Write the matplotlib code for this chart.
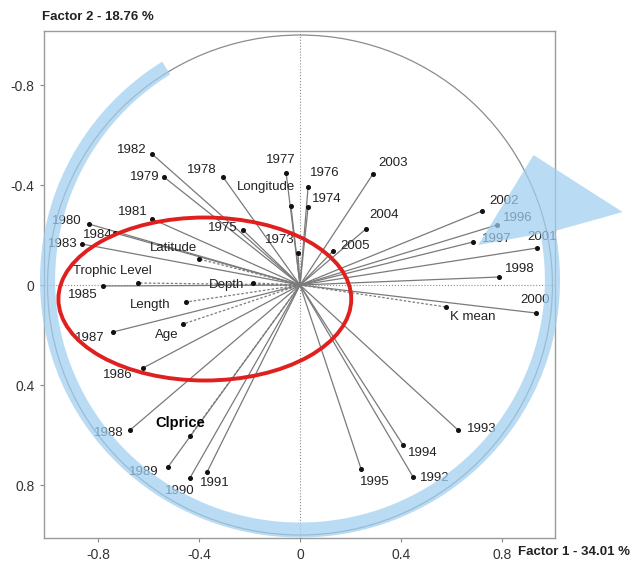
import numpy as np
import matplotlib
matplotlib.use('Agg')
import matplotlib.pyplot as plt
from matplotlib.patches import Circle, Ellipse, Polygon

plt.rcParams['font.family'] = ['Liberation Sans', 'DejaVu Sans']

# variable coordinates on the factor plane (factor 1, factor 2)
names = ['1982', '1979', '1978', '1977', 'Longitude', '1976', '1974', '1981',
         '1980', '1984', '1983', '1975', '1973', 'Latitude', 'Trophic Level',
         '1985', 'Depth', 'Length', '1987', 'Age', '1986', '1988', 'Clprice',
         '1989', '1990', '1991', '2003', '2004', '2005', '2002', '1996', '1997',
         '2001', '1998', '2000', 'K mean', '1993', '1994', '1992', '1995']
factor1 = [-0.586, -0.539, -0.305, -0.055, -0.036, 0.032, 0.032, -0.586,
           -0.836, -0.733, -0.863, -0.226, -0.008, -0.400, -0.642,
           -0.780, -0.186, -0.451, -0.741, -0.463, -0.622, -0.673, -0.436,
           -0.523, -0.436, -0.368, 0.289, 0.261, 0.131, 0.721, 0.780, 0.685,
           0.939, 0.788, 0.935, 0.578, 0.626, 0.408, 0.448, 0.242]
factor2 = [-0.524, -0.432, -0.432, -0.448, -0.316, -0.392, -0.312, -0.264,
           -0.244, -0.208, -0.164, -0.220, -0.128, -0.104, -0.008,
           0.004, -0.008, 0.068, 0.188, 0.156, 0.332, 0.580, 0.604,
           0.728, 0.772, 0.748, -0.444, -0.224, -0.136, -0.296, -0.240, -0.172,
           -0.148, -0.032, 0.112, 0.088, 0.580, 0.640, 0.768, 0.736]
supplementary = ['Latitude', 'Trophic Level', 'Depth', 'Length', 'Age', 'K mean', 'Clprice']

ticks = [-0.8, -0.4, 0, 0.4, 0.8]
tick_labels = ['-0.8', '-0.4', '0', '0.4', '0.8']

# label placement (pixel offset from the point, alignment)
label_pos = {
    '1982': (-5, 4, 'right'), '1979': (-4, 0, 'right'), '1978': (-6, 7, 'right'),
    '1977': (-5, 13, 'center'), 'Longitude': (4, 19, 'right'), '1976': (2, 14, 'left'),
    '1974': (4, 8, 'left'), '1981': (-4, 7, 'right'), '1980': (-7, 3, 'right'),
    '1984': (-2, -2, 'right'), '1983': (-5, 0, 'right'), '1975': (-5, 2, 'right'),
    '1973': (-3, 13, 'right'), 'Latitude': (-2, 11, 'right'), 'Trophic Level': (14, 12, 'right'),
    '1985': (-6, -9, 'right'), 'Depth': (-9, -2, 'right'), 'Length': (-16, -3, 'right'),
    '1987': (-8, -6, 'right'), 'Age': (-5, -11, 'right'), '1986': (-10, -7, 'right'),
    '1988': (-7, -3, 'right'), 'Clprice': (-10, 13, 'center'), '1989': (-9, -5, 'right'),
    '1990': (5, -13, 'right'), '1991': (-7, -11, 'left'), '2003': (5, 11, 'left'),
    '2004': (3, 14, 'left'), '2005': (7, 5, 'left'), '2002': (7, 10, 'left'),
    '1996': (6, 7, 'left'), '1997': (9, 3, 'left'), '2001': (5, 11, 'center'),
    '1998': (6, 8, 'left'), '2000': (-1, 13, 'center'), 'K mean': (4, -10, 'left'),
    '1993': (9, 1, 'left'), '1994': (5, -8, 'left'), '1992': (7, -1, 'left'),
    '1995': (-1, -13, 'left'),
}

fig = plt.figure(figsize=(6.39, 5.61), dpi=100)
ax = fig.add_axes([0.0689, 0.041, 0.7996, 0.9037])
ax.set_xlim(-1.014, 1.010)
ax.set_ylim(1.012, -1.016)

ax.axhline(0, color='#8a8a8a', lw=0.8, ls=':', zorder=1)
ax.axvline(0, color='#8a8a8a', lw=0.8, ls=':', zorder=1)
ax.add_patch(Circle((0, 0), 1.0, fill=False, ec='#8c8c8c', lw=0.9, zorder=1))

for name, fx, fy in zip(names, factor1, factor2):
    ls = (0, (2, 1.5)) if name in supplementary else '-'
    ax.plot([0, fx], [0, fy], color='#7a7a7a', lw=0.9, ls=ls, zorder=2)
    ax.plot(fx, fy, 'o', color='#111111', ms=2.6, zorder=3)
    dx, dy, ha = label_pos[name]
    if name == 'Clprice':
        ax.annotate(name, (fx, fy), xytext=(dx, dy), textcoords='offset pixels',
                    ha=ha, va='center', fontsize=10.5, fontweight='bold', color='black', zorder=4)
    else:
        ax.annotate(name, (fx, fy), xytext=(dx, dy), textcoords='offset pixels',
                    ha=ha, va='center', fontsize=9.5, color='#222222', zorder=4)

# red ellipse around the supplementary variables
ax.add_patch(Ellipse((-0.377, 0.056), 1.16, 0.652, fill=False, ec='#e01f1f', lw=2.8, zorder=6))

# light blue arrow around the circle
cy = -0.02
r_in, r_out = 0.97, 1.03
th = np.radians(np.linspace(122, 371, 200))
inner = np.column_stack([r_in * np.cos(th), cy - r_in * np.sin(th)])
outer = np.column_stack([r_out * np.cos(th), cy - r_out * np.sin(th)])[::-1]
head = np.array([[0.706, -0.16], [0.925, -0.52], [1.278, -0.292]])
band = np.vstack([inner, head, outer])
ax.add_patch(Polygon(band, closed=True, fc='#9fcff0', ec='none', alpha=0.72,
                     clip_on=False, zorder=5))

ax.set_xticks(ticks)
ax.set_xticklabels(tick_labels)
ax.set_yticks(ticks)
ax.set_yticklabels(tick_labels)
ax.tick_params(direction='out', length=3, width=0.8, color='#888888',
               labelcolor='#333333', labelsize=10, pad=4)
for s in ax.spines.values():
    s.set_color('#9a9a9a')
    s.set_linewidth(1.0)

fig.text(42 / 639, 1 - 17 / 561, 'Factor 2 - 18.76 %', fontsize=9.5, fontweight='bold',
         color='#222222', ha='left', va='center')
fig.text(518 / 639, 1 - 552 / 561, 'Factor 1 - 34.01 %', fontsize=9.5, fontweight='bold',
         color='#222222', ha='left', va='center')

fig.savefig('out.png', dpi=100)
